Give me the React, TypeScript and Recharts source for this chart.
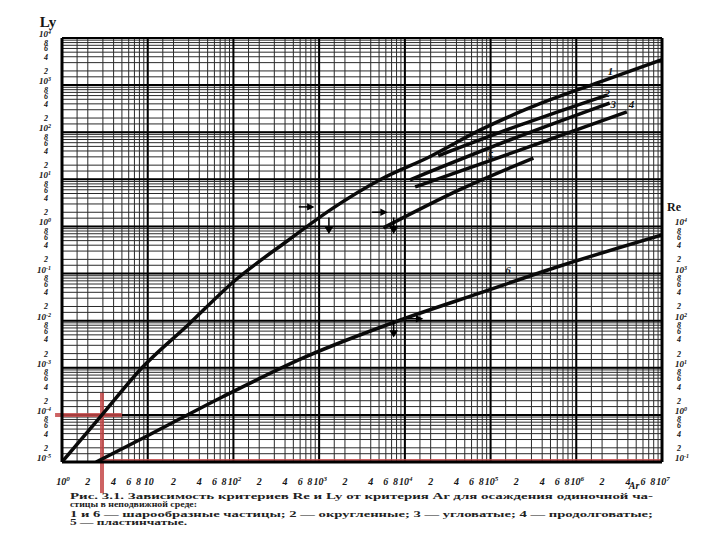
import React from 'react';
import {
  LineChart,
  Line,
  XAxis,
  YAxis,
  CartesianGrid,
  ReferenceLine,
  ReferenceDot
} from 'recharts';

// curve 1 (шар), Ly vs Ar
const ar1 = [1, 2.93, 8.57, 29.5, 105, 437, 1450, 5130, 19500, 75900, 288000, 1.9e6, 1e7];
const ly1 = [1e-5, 1e-4, 1e-3, 8.1e-3, 0.072, 0.51, 2.45, 9.8, 30.2, 112, 331, 1175, 3470];
// curves 2..5, Ly vs Ar
const ar2 = [24550, 218800, 2.29e6];
const ly2 = [31.6, 141, 617];
const ar3 = [11480, 169800, 2.45e6];
const ly3 = [9.77, 69.2, 417];
const ar4 = [13180, 218800, 3.89e6];
const ly4 = [6.92, 41.7, 269];
const ar5 = [5620, 43650, 316200];
const ly5 = [0.93, 6.03, 28.2];
// curve 6 (шар), Re vs Ar
const ar6 = [2.5, 9.33, 74.1, 692, 8710, 75900, 645700, 1e7];
const re6 = [0.1, 0.339, 2.4, 17.0, 102, 389, 1445, 6610];

// grid / tick mantissas
const gridMantissas = [1, 1.5, 2, 3, 4, 5, 6, 7, 8, 9];
const labelMantissas = [1, 2, 4, 6, 8];
const xDecades = [0, 1, 2, 3, 4, 5, 6];
const lyDecades = [-5, -4, -3, -2, -1, 0, 1, 2, 3];
const reDecades = [-1, 0, 1, 2, 3];

const caption = [
  'Рис. 3.1. Зависимость критериев Re и Ly от критерия Ar для осаждения одиночной ча-',
  'стицы в неподвижной среде:',
  '1 и 6 — шарообразные частицы; 2 — округленные; 3 — угловатые; 4 — продолговатые;',
  '5 — пластинчатые.'
];

const pairs = (xs: number[], ys: number[]) => xs.map((x, i) => ({ x, y: ys[i] }));

const ticksFor = (decades: number[], last: number) => {
  const t: number[] = [];
  decades.forEach((e) => gridMantissas.forEach((m) => t.push(m * Math.pow(10, e))));
  t.push(Math.pow(10, last));
  return t;
};

const splitVal = (v: number) => {
  const e = Math.floor(Math.log10(v) + 1e-9);
  const m = Math.round((v / Math.pow(10, e)) * 10) / 10;
  return { e, m };
};

const font = '"Liberation Serif", "DejaVu Serif", serif';
const ink = '#161616';

const XTick = (props: any) => {
  const { x, y, payload } = props;
  const { e, m } = splitVal(payload.value);
  if (!labelMantissas.includes(m)) return <g />;
  if (m === 1) {
    return (
      <text x={x + 1} y={y + 15} textAnchor="middle" fontFamily={font} fontStyle="italic" fontWeight="bold" fontSize={10} fill={ink}>
        10
        {e !== 1 && <tspan dy={-4} fontSize={7}>{e}</tspan>}
      </text>
    );
  }
  return (
    <text x={m === 8 ? x - 1 : x} y={y + 15} textAnchor="middle" fontFamily={font} fontStyle="italic" fontWeight="bold" fontSize={10} fill={ink}>
      {m}
    </text>
  );
};

const YTick = (props: any) => {
  const { x, y, payload, orientation } = props;
  const { e, m } = splitVal(payload.value);
  if (!labelMantissas.includes(m)) return <g />;
  const left = orientation !== 'right';
  const tx = left ? x - 3 : x + 5;
  const anchor = left ? 'end' : 'start';
  if (m === 1) {
    return (
      <text x={tx} y={y - 1} textAnchor={anchor} fontFamily={font} fontStyle="italic" fontWeight="bold" fontSize={9} fill={ink}>
        10
        <tspan dy={-3} fontSize={6}>{e}</tspan>
      </text>
    );
  }
  return (
    <text x={left ? tx - 3 : tx + 2} y={y + 3} textAnchor={anchor} fontFamily={font} fontStyle="italic" fontWeight="bold" fontSize={8} fill={ink}>
      {m}
    </text>
  );
};

const curveLabel = (text: string) => ({
  value: text,
  position: 'center' as const,
  fontFamily: font,
  fontStyle: 'italic',
  fontWeight: 'bold',
  fontSize: 11,
  fill: ink
});

// small drawn arrows used as annotations on the curves
const ArrowDown = (props: any) => {
  const { x, y } = props.viewBox;
  return (
    <g stroke="#000" strokeWidth={1.5} fill="#000">
      <line x1={x} y1={y - 7} x2={x} y2={y + 4} />
      <path d={`M ${x - 3} ${y + 3} L ${x + 3} ${y + 3} L ${x} ${y + 8} Z`} />
    </g>
  );
};

const ArrowRight = (props: any) => {
  const { x, y } = props.viewBox;
  return (
    <g stroke="#000" strokeWidth={1.5} fill="#000">
      <line x1={x - 7} y1={y} x2={x + 3} y2={y} />
      <path d={`M ${x + 2} ${y - 2.5} L ${x + 2} ${y + 2.5} L ${x + 7} ${y} Z`} />
    </g>
  );
};

const red = 'rgba(196, 72, 72, 0.85)';

export default function App() {
  const lineProps = {
    type: 'monotone' as const,
    dataKey: 'y',
    stroke: '#0a0a0a',
    strokeWidth: 3.5,
    dot: false,
    isAnimationActive: false
  };
  return (
    <div style={{ position: 'absolute', left: 0, top: 0, width: 720, height: 540, background: '#fff' }}>
      <LineChart width={720} height={540} margin={{ top: 38, right: 0, left: 0, bottom: 0 }}>
        <CartesianGrid yAxisId="ly" stroke="#2a2a2a" strokeWidth={1} />
        <XAxis
          dataKey="x"
          type="number"
          scale="log"
          domain={[1, 1e7]}
          ticks={ticksFor(xDecades, 7)}
          interval={0}
          allowDataOverflow
          height={78}
          tickLine={false}
          axisLine={{ stroke: '#000', strokeWidth: 3 }}
          tick={<XTick />}
        />
        <YAxis
          yAxisId="ly"
          type="number"
          scale="log"
          domain={[1e-5, 1e4]}
          ticks={ticksFor(lyDecades, 4)}
          interval={0}
          allowDataOverflow
          width={62}
          tickLine={false}
          axisLine={{ stroke: '#000', strokeWidth: 3 }}
          tick={<YTick />}
        />
        <YAxis
          yAxisId="re"
          orientation="right"
          type="number"
          scale="log"
          domain={[1e-1, 1e8]}
          ticks={ticksFor(reDecades, 4)}
          interval={0}
          allowDataOverflow
          width={58}
          tickLine={false}
          axisLine={{ stroke: '#000', strokeWidth: 3 }}
          tick={<YTick orientation="right" />}
        />
        {xDecades.map((e) => (
          <ReferenceLine key={'xd' + e} yAxisId="ly" x={Math.pow(10, e)} stroke="#000" strokeWidth={2} />
        ))}
        {lyDecades.concat([4]).map((e) => (
          <ReferenceLine key={'yd' + e} yAxisId="ly" y={Math.pow(10, e)} stroke="#000" strokeWidth={2} />
        ))}
        <ReferenceLine
          yAxisId="ly"
          segment={[{ x: 2.93, y: Math.pow(10, -3.53) }, { x: 2.93, y: Math.pow(10, -5.66) }]}
          stroke={red}
          strokeWidth={4}
          ifOverflow="visible"
        />
        <ReferenceLine
          yAxisId="ly"
          segment={[{ x: 0.83, y: 1e-4 }, { x: 5.0, y: 1e-4 }]}
          stroke={red}
          strokeWidth={4}
          ifOverflow="visible"
        />
        <ReferenceLine
          yAxisId="ly"
          segment={[{ x: 2.93, y: 1.05e-5 }, { x: 1e7, y: 1.05e-5 }]}
          stroke={red}
          strokeWidth={4}
          ifOverflow="visible"
        />
        <Line yAxisId="ly" data={pairs(ar1, ly1)} {...lineProps} />
        <Line yAxisId="ly" data={pairs(ar2, ly2)} {...lineProps} />
        <Line yAxisId="ly" data={pairs(ar3, ly3)} {...lineProps} />
        <Line yAxisId="ly" data={pairs(ar4, ly4)} {...lineProps} />
        <Line yAxisId="ly" data={pairs(ar5, ly5)} {...lineProps} />
        <Line yAxisId="re" data={pairs(ar6, re6)} {...lineProps} />
        <ReferenceDot yAxisId="ly" x={2.5e6} y={2000} r={0} label={curveLabel('1')} />
        <ReferenceDot yAxisId="ly" x={2.3e6} y={680} r={0} label={curveLabel('2')} />
        <ReferenceDot yAxisId="ly" x={2.7e6} y={400} r={0} label={curveLabel('3')} />
        <ReferenceDot yAxisId="ly" x={4.4e6} y={390} r={0} label={curveLabel('4')} />
        <ReferenceDot yAxisId="ly" x={1.0e5} y={33} r={0} label={curveLabel('5')} />
        <ReferenceDot yAxisId="re" x={1.6e5} y={1200} r={0} label={curveLabel('6')} />
        <ReferenceDot yAxisId="ly" x={700} y={2.6} r={0} label={<ArrowRight />} />
        <ReferenceDot yAxisId="ly" x={1300} y={1.1} r={0} label={<ArrowDown />} />
        <ReferenceDot yAxisId="ly" x={5000} y={2.0} r={0} label={<ArrowRight />} />
        <ReferenceDot yAxisId="ly" x={7400} y={1.1} r={0} label={<ArrowDown />} />
        <ReferenceDot yAxisId="re" x={7400} y={70} r={0} label={<ArrowDown />} />
        <ReferenceDot yAxisId="re" x={13000} y={110} r={0} label={<ArrowRight />} />
      </LineChart>
      <svg width={720} height={540} style={{ position: 'absolute', left: 0, top: 0, pointerEvents: 'none' }}>
        <text x={48} y={27} textAnchor="middle" fontFamily={font} fontWeight="bold" fontSize={15} fill={ink}>Ly</text>
        <text x={667} y={211} fontFamily={font} fontWeight="bold" fontSize={12} fill={ink}>Re</text>
        <text x={634} y={489} textAnchor="middle" fontFamily={font} fontStyle="italic" fontWeight="bold" fontSize={10} fill={ink}>Ar</text>
        <text x={70} y={499} textLength={583} lengthAdjust="spacingAndGlyphs" fontFamily={font} fontWeight="bold" fontSize={9} fill="#222">{caption[0]}</text>
        <text x={70} y={507} textLength={127} lengthAdjust="spacingAndGlyphs" fontFamily={font} fontWeight="bold" fontSize={9} fill="#222">{caption[1]}</text>
        <text x={70} y={517} textLength={583} lengthAdjust="spacingAndGlyphs" fontFamily={font} fontWeight="bold" fontSize={9} fill="#222">{caption[2]}</text>
        <text x={70} y={525} textLength={117} lengthAdjust="spacingAndGlyphs" fontFamily={font} fontWeight="bold" fontSize={9} fill="#222">{caption[3]}</text>
      </svg>
    </div>
  );
}
